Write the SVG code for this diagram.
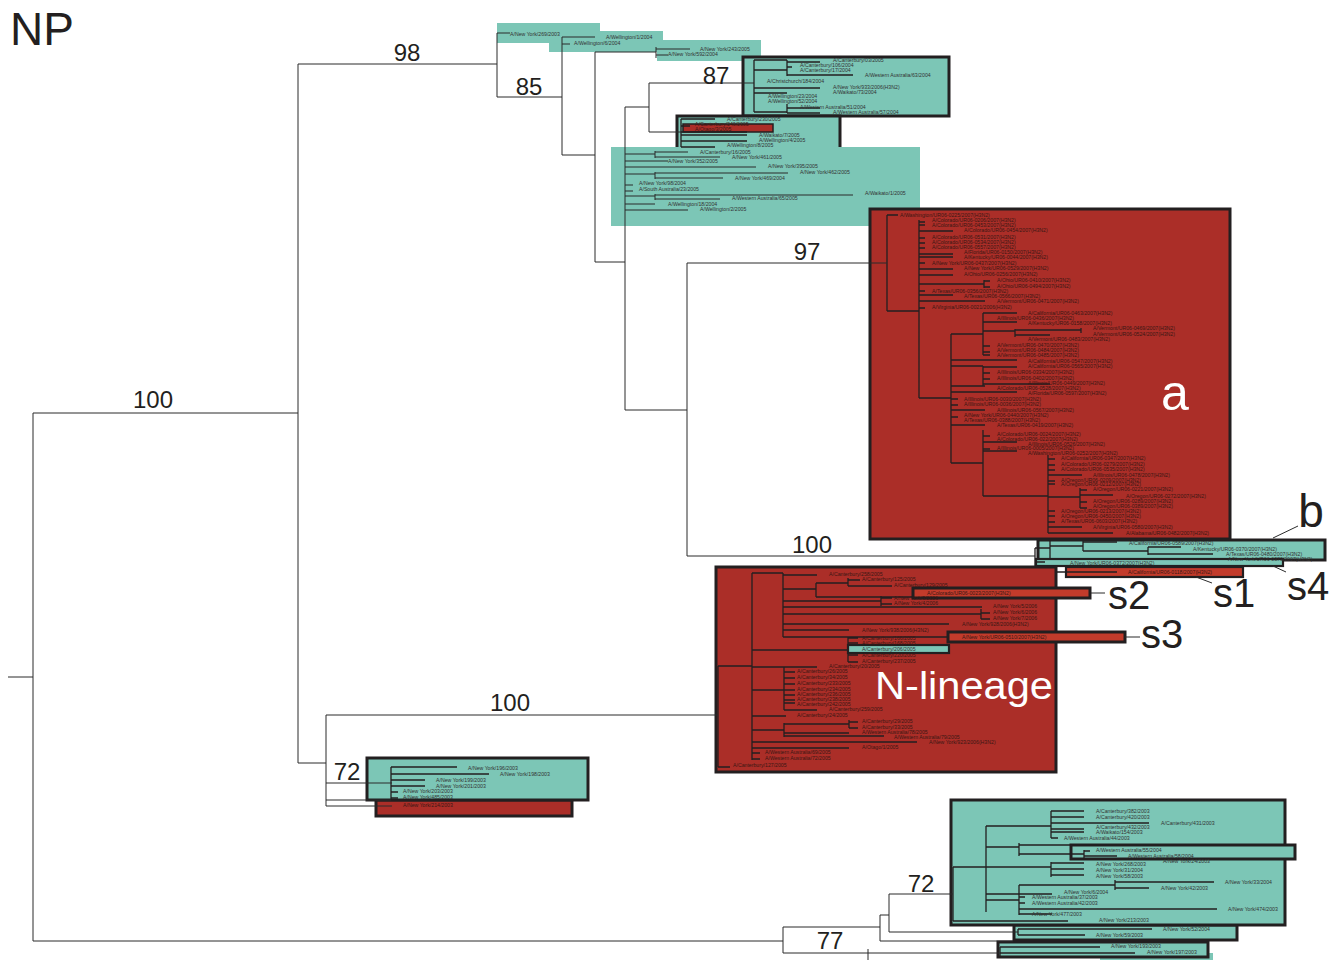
<svg xmlns="http://www.w3.org/2000/svg" width="1338" height="960" viewBox="0 0 1338 960">
<style>
.bg{fill:#ffffff}
.teal{fill:#7cc6b6}
.red{fill:#ab2e28}
.sred{fill:#c23b2b}
.bx{stroke:#231f20;stroke-width:3}
.bxs{stroke:#231f20;stroke-width:2.2}
.ln{fill:none;stroke:#2b2b2b;stroke-width:1}
.lb{fill:none;stroke:#231f20;stroke-width:1.3}
.t{font-family:"Liberation Sans",Arial,sans-serif;font-size:5.2px;fill:#333333}
.tr{font-family:"Liberation Sans",Arial,sans-serif;font-size:5.2px;fill:#3a1714}
.num{font-family:"Liberation Sans",Arial,sans-serif;font-size:24px;fill:#231f20;text-anchor:middle}
.lab{font-family:"Liberation Sans",Arial,sans-serif;fill:#231f20;text-anchor:middle}
.wl{font-family:"Liberation Sans",Arial,sans-serif;fill:#ffffff}
</style>
<rect class="bg" x="0" y="0" width="1338" height="960"/>

<g id="clade-top">
  <rect class="teal" x="497" y="23" width="103" height="20"/>
  <rect class="teal" x="549" y="31" width="114" height="21"/>
  <rect class="teal" x="657" y="40" width="104" height="21"/>
  <rect class="teal bx" x="743" y="57" width="206" height="59"/>
  <rect class="teal bx" x="677" y="116" width="163" height="33"/>
  <rect class="red" x="683" y="124" width="90" height="8" stroke="#231f20" stroke-width="1.5"/>
  <rect class="teal" x="611" y="147" width="309" height="79"/>
  <path class="ln" d="M497 33V97M497 33H510M497 97H562M562 37V155M562 37H595M562 44H570M562 155H595M595 52V262M595 52H656M656 47V58M656 49H690M656 55H668M595 262H625M625 107V410M625 107H649M649 83V132M649 83H754M649 132H681"/>
  <path class="lb" d="M754 60V112M754 60H787M787 60V76M787 62H820M787 67H792M787 75H853M754 70H787M754 88H820M754 93H787M754 112H787M787 104V113M787 108H820M787 113H820"/>
  <path class="lb" d="M681 119V147M681 119H715M681 126H690M681 132H747M681 135H747M681 141H747M681 147H715"/>
  <path class="ln" d="M625 154H655M655 151V158M655 152H688M655 157H720M625 161H668M625 167H756M625 174H655M655 172V179M655 173H788M655 178H723M625 185H633M625 191H633M625 196H655M655 194V200M655 195H853M655 199H720M625 204H655M625 210H688"/>
  <text class="t" x="510" y="36">A/New York/269/2003</text>
  <text class="t" x="606" y="39">A/Wellington/1/2004</text>
  <text class="t" x="574" y="45">A/Wellington/6/2004</text>
  <text class="t" x="700" y="51">A/New York/243/2005</text>
  <text class="t" x="668" y="56">A/New York/592/2004</text>
  <text class="t" x="833" y="62">A/Canterbury/03/2005</text>
  <text class="t" x="800" y="66.5">A/Canterbury/106/2004</text>
  <text class="t" x="800" y="71.5">A/Canterbury/17/2004</text>
  <text class="t" x="865" y="77">A/Western Australia/63/2004</text>
  <text class="t" x="767" y="83">A/Christchurch/184/2004</text>
  <text class="t" x="833" y="89">A/New York/933/2006(H3N2)</text>
  <text class="t" x="833" y="94">A/Waikato/73/2004</text>
  <text class="t" x="768" y="97.5">A/Wellington/23/2004</text>
  <text class="t" x="768" y="103">A/Wellington/52/2004</text>
  <text class="t" x="800" y="109">A/Western Australia/51/2004</text>
  <text class="t" x="833" y="114">A/Western Australia/57/2004</text>
  <text class="t" x="727" y="120.5">A/Canterbury/230/2005</text>
  <text class="tr" x="695" y="125.5">A/Canterbury/240/2005</text>
  <text class="tr" x="695" y="130.5">A/Otago/3/2005</text>
  <text class="t" x="759" y="137">A/Waikato/7/2005</text>
  <text class="t" x="759" y="142">A/Wellington/4/2005</text>
  <text class="t" x="727" y="147">A/Wellington/8/2005</text>
  <text class="t" x="700" y="154">A/Canterbury/16/2005</text>
  <text class="t" x="732" y="159">A/New York/461/2005</text>
  <text class="t" x="668" y="163">A/New York/352/2005</text>
  <text class="t" x="768" y="168">A/New York/395/2005</text>
  <text class="t" x="800" y="174">A/New York/462/2005</text>
  <text class="t" x="735" y="180">A/New York/469/2004</text>
  <text class="t" x="639" y="185">A/New York/98/2004</text>
  <text class="t" x="639" y="191">A/South Australia/23/2005</text>
  <text class="t" x="865" y="195">A/Waikato/1/2005</text>
  <text class="t" x="732" y="200">A/Western Australia/65/2005</text>
  <text class="t" x="668" y="206">A/Wellington/18/2004</text>
  <text class="t" x="700" y="211">A/Wellington/2/2005</text>
</g>

<g id="clade-a">
  <rect class="red bx" x="870" y="209" width="360" height="330"/>
  <path class="lb" d="M887 215V311M887 215H898M887 311H919M919 220V398M919 222H925M919 225H925M919 231H953M919 238H925M919 243H925M919 248H925M919 254H953M919 257H953M919 263H925M919 269H953M919 275H953M919 284H984M984 280V288M984 281H990M984 287H990M919 291H925M919 295H953M919 301H985M919 308H925M919 398H951M951 334V463M951 334H983M983 313V355M983 313H1017M983 322H1017M983 331H1015M1015 329V337M1015 330H1081M1081 328V333M1015 335H1050M983 346H990M983 352H990M983 355H990M951 360H1017M951 366H983M983 366V386M983 367H1017M983 373H990M983 379H990M983 384H1050M951 386H985M951 392H1017M951 399H958M951 405H958M951 410H985M951 417H958M951 425H985M951 463H983M983 430V496M983 436H990M983 442H1017M983 449H990M983 451H1017M983 496H1048M1048 455V533M1048 459H1055M1048 465H1055M1048 470H1055M1048 475H1082M1048 481H1055M1048 484H1055M1048 497H1080M1080 488V508M1080 490H1087M1080 495H1113M1080 502H1087M1080 508H1087M1048 511H1055M1048 516H1055M1048 522H1055M1048 527H1082M1048 533H1113"/>
  <text class="tr" x="900" y="217">A/Washington/UR06-0225/2007(H3N2)</text>
  <text class="tr" x="932" y="222">A/Colorado/UR06-0206/2007(H3N2)</text>
  <text class="tr" x="932" y="227">A/Colorado/UR06-0453/2007(H3N2)</text>
  <text class="tr" x="964" y="232">A/Colorado/UR06-0454/2007(H3N2)</text>
  <text class="tr" x="932" y="238.5">A/Colorado/UR06-0531/2007(H3N2)</text>
  <text class="tr" x="932" y="244">A/Colorado/UR06-0534/2007(H3N2)</text>
  <text class="tr" x="932" y="249">A/Colorado/UR06-0557/2007(H3N2)</text>
  <text class="tr" x="964" y="254">A/Florida/UR06-0150/2007(H3N2)</text>
  <text class="tr" x="964" y="259">A/Kentucky/UR06-0044/2007(H3N2)</text>
  <text class="tr" x="932" y="264.5">A/New York/UR06-0437/2007(H3N2)</text>
  <text class="tr" x="964" y="270">A/New York/UR06-0529/2007(H3N2)</text>
  <text class="tr" x="964" y="276">A/Ohio/UR06-0256/2007(H3N2)</text>
  <text class="tr" x="997" y="282">A/Ohio/UR06-0410/2007(H3N2)</text>
  <text class="tr" x="997" y="287.5">A/Ohio/UR06-0494/2007(H3N2)</text>
  <text class="tr" x="932" y="292.5">A/Texas/UR06-0356/2007(H3N2)</text>
  <text class="tr" x="964" y="297.5">A/Texas/UR06-0566/2007(H3N2)</text>
  <text class="tr" x="997" y="303">A/Vermont/UR06-0471/2007(H3N2)</text>
  <text class="tr" x="932" y="309">A/Virginia/UR06-0021/2006(H3N2)</text>
  <text class="tr" x="1028" y="315">A/California/UR06-0463/2007(H3N2)</text>
  <text class="tr" x="997" y="320">A/Illinois/UR06-0436/2007(H3N2)</text>
  <text class="tr" x="1028" y="325">A/Kentucky/UR06-0158/2007(H3N2)</text>
  <text class="tr" x="1093" y="330">A/Vermont/UR06-0469/2007(H3N2)</text>
  <text class="tr" x="1093" y="336">A/Vermont/UR06-0524/2007(H3N2)</text>
  <text class="tr" x="1028" y="341">A/Vermont/UR06-0483/2007(H3N2)</text>
  <text class="tr" x="997" y="347">A/Vermont/UR06-0470/2007(H3N2)</text>
  <text class="tr" x="997" y="352">A/Vermont/UR06-0484/2007(H3N2)</text>
  <text class="tr" x="997" y="357">A/Vermont/UR06-0485/2007(H3N2)</text>
  <text class="tr" x="1028" y="362.5">A/California/UR06-0547/2007(H3N2)</text>
  <text class="tr" x="1028" y="368">A/California/UR06-0565/2007(H3N2)</text>
  <text class="tr" x="997" y="374">A/Illinois/UR06-0334/2007(H3N2)</text>
  <text class="tr" x="997" y="379.5">A/Illinois/UR06-0402/2007(H3N2)</text>
  <text class="tr" x="1028" y="384.5">A/Illinois/UR06-0449/2007(H3N2)</text>
  <text class="tr" x="997" y="389.5">A/Colorado/UR06-0528/2007(H3N2)</text>
  <text class="tr" x="1028" y="395">A/Florida/UR06-0597/2007(H3N2)</text>
  <text class="tr" x="964" y="400.5">A/Illinois/UR06-0030/2007(H3N2)</text>
  <text class="tr" x="964" y="406">A/Illinois/UR06-0036/2007(H3N2)</text>
  <text class="tr" x="997" y="411.5">A/Illinois/UR06-0567/2007(H3N2)</text>
  <text class="tr" x="964" y="416.5">A/New York/UR06-0440/2007(H3N2)</text>
  <text class="tr" x="964" y="421.5">A/Texas/UR06-0388/2007(H3N2)</text>
  <text class="tr" x="997" y="426.5">A/Texas/UR06-0419/2007(H3N2)</text>
  <text class="tr" x="997" y="436">A/Colorado/UR06-0024/2007(H3N2)</text>
  <text class="tr" x="997" y="441">A/Colorado/UR06-022/2007(H3N2)</text>
  <text class="tr" x="1028" y="445.5">A/Illinois/UR06-0526/2007(H3N2)</text>
  <text class="tr" x="997" y="450">A/Illinois/UR06-0005/2007(H3N2)</text>
  <text class="tr" x="1028" y="454.5">A/Washington/UR06-0252/2007(H3N2)</text>
  <text class="tr" x="1061" y="460">A/California/UR06-0347/2007(H3N2)</text>
  <text class="tr" x="1061" y="466">A/Colorado/UR06-0279/2007(H3N2)</text>
  <text class="tr" x="1061" y="471">A/Colorado/UR06-0535/2007(H3N2)</text>
  <text class="tr" x="1093" y="476.5">A/Illinois/UR06-0478/2007(H3N2)</text>
  <text class="tr" x="1061" y="481.5">A/Oregon/UR06-0209/2007(H3N2)</text>
  <text class="tr" x="1061" y="486">A/Oregon/UR06-0212/2007(H3N2)</text>
  <text class="tr" x="1093" y="491">A/Oregon/UR06-0221/2007(H3N2)</text>
  <text class="tr" x="1126" y="498">A/Oregon/UR06-0272/2007(H3N2)</text>
  <text class="tr" x="1093" y="503">A/Oregon/UR06-0289/2007(H3N2)</text>
  <text class="tr" x="1093" y="508">A/Oregon/UR06-0389/2007(H3N2)</text>
  <text class="tr" x="1061" y="512.5">A/Oregon/UR06-0213/2007(H3N2)</text>
  <text class="tr" x="1061" y="517.5">A/Oregon/UR06-0450/2007(H3N2)</text>
  <text class="tr" x="1061" y="523">A/Texas/UR06-0603/2007(H3N2)</text>
  <text class="tr" x="1093" y="529">A/Virginia/UR06-0580/2007(H3N2)</text>
  <text class="tr" x="1126" y="535">A/Alabama/UR06-0482/2007(H3N2)</text>
  <text class="wl" x="1161" y="410" font-size="50">a</text>
</g>

<g id="clade-b">
  <rect class="teal bx" x="1038" y="540" width="287" height="20"/>
  <rect class="teal bxs" x="1036" y="559" width="247" height="7"/>
  <rect class="sred bxs" x="1066" y="567" width="177" height="10"/>
  <path class="lb" d="M1050 540V560M1050 546H1083M1083 541V551M1083 542H1117M1083 551H1148M1148 547V555M1148 547H1181M1148 554H1213M1035 548V572M1035 548H1050M1035 562H1045M1035 572H1117"/>
  <text class="t" x="1129" y="545">A/California/UR06-0589/2007(H3N2)</text>
  <text class="t" x="1193" y="551">A/Kentucky/UR06-0370/2007(H3N2)</text>
  <text class="t" x="1226" y="556">A/Texas/UR06-0480/2007(H3N2)</text>
  <text class="t" x="1228" y="561">A/New York/UR06-0373/2007(H3N2)</text>
  <text class="t" x="1070" y="565">A/New York/UR06-0372/2007(H3N2)</text>
  <text class="tr" x="1128" y="574">A/California/UR06-0118/2007(H3N2)</text>
</g>

<g id="clade-n-lineage">
  <rect class="red bx" x="716" y="567" width="340" height="205"/>
  <path class="lb" d="M718 666V767M718 666H752M718 767H730M752 573V760M752 573H783M783 573V637M783 575H817M783 589H816M816 583V597M816 583H848M848 578V586M848 580H860M848 586H892M816 597H912M783 601H881M881 596V606M881 598H892M881 604H892M783 607H982M783 614H981M981 609V619M981 613H990M981 619H990M783 624H949M783 630H849M783 637H947M752 650H848M848 637V662M848 638H858M848 643H858M848 650H940M848 655H858M848 662H858M752 667H817M752 690H784M784 667V710M784 672H795M784 678H795M784 684H795M784 690H795M784 695H795M784 700H795M784 703H795M784 710H817M752 716H786M752 730H784M784 723V737M784 724H849M849 720V728M849 722H858M849 728H858M784 733H849M784 736H884M752 742H917M752 748H849M752 753H760M752 759H760"/>
  <rect class="sred bx" x="913" y="588" width="177" height="10"/>
  <rect class="sred bx" x="948" y="632" width="177" height="10"/>
  <rect class="teal bxs" x="848" y="645" width="101" height="8"/>
  <text class="tr" x="829" y="576">A/Canterbury/258/2005</text>
  <text class="tr" x="862" y="581">A/Canterbury/125/2005</text>
  <text class="tr" x="894" y="587">A/Canterbury/129/2005</text>
  <text class="tr" x="927" y="595">A/Colorado/UR06-0023/2007(H3N2)</text>
  <text class="tr" x="894" y="600">A/New York/3/2006</text>
  <text class="tr" x="894" y="605">A/New York/4/2006</text>
  <text class="tr" x="993" y="608">A/New York/5/2006</text>
  <text class="tr" x="993" y="614">A/New York/6/2006</text>
  <text class="tr" x="993" y="620">A/New York/7/2006</text>
  <text class="tr" x="962" y="626">A/New York/928/2006(H3N2)</text>
  <text class="tr" x="862" y="632">A/New York/938/2006(H3N2)</text>
  <text class="tr" x="962" y="639">A/New York/UR06-0510/2007(H3N2)</text>
  <text class="tr" x="862" y="640">A/Canterbury/166/2005</text>
  <text class="tr" x="862" y="645">A/Canterbury/168/2005</text>
  <text class="t" x="862" y="651">A/Canterbury/206/2005</text>
  <text class="tr" x="862" y="657">A/Canterbury/220/2005</text>
  <text class="tr" x="862" y="663">A/Canterbury/237/2005</text>
  <text class="tr" x="829" y="668">A/Canterbury/20/2005</text>
  <text class="tr" x="797" y="673">A/Canterbury/26/2005</text>
  <text class="tr" x="797" y="679">A/Canterbury/34/2005</text>
  <text class="tr" x="797" y="685">A/Canterbury/233/2005</text>
  <text class="tr" x="797" y="690.5">A/Canterbury/234/2005</text>
  <text class="tr" x="797" y="695.5">A/Canterbury/236/2005</text>
  <text class="tr" x="797" y="700.5">A/Canterbury/238/2005</text>
  <text class="tr" x="797" y="705.5">A/Canterbury/242/2005</text>
  <text class="tr" x="829" y="711">A/Canterbury/259/2005</text>
  <text class="tr" x="797" y="717">A/Canterbury/24/2005</text>
  <text class="tr" x="862" y="723">A/Canterbury/29/2005</text>
  <text class="tr" x="862" y="728.5">A/Canterbury/33/2005</text>
  <text class="tr" x="862" y="733.5">A/Western Australia/78/2005</text>
  <text class="tr" x="894" y="738.5">A/Western Australia/79/2005</text>
  <text class="tr" x="929" y="743.5">A/New York/923/2006(H3N2)</text>
  <text class="tr" x="862" y="749">A/Otago/1/2005</text>
  <text class="tr" x="765" y="754">A/Western Australia/69/2005</text>
  <text class="tr" x="765" y="760">A/Western Australia/72/2005</text>
  <text class="tr" x="733" y="767">A/Canterbury/127/2005</text>
  <text class="wl" x="875" y="699" font-size="38" textLength="178" lengthAdjust="spacingAndGlyphs">N-lineage</text>
</g>

<g id="clade-72a">
  <rect class="red bx" x="376" y="800" width="196" height="16"/>
  <rect class="teal bx" x="367" y="758" width="221" height="42"/>
  <path class="lb" d="M391 767V800M391 767H457M391 774H489M391 780H425M391 786H425M391 792H398M391 798H398"/>
  <text class="t" x="468" y="770">A/New York/196/2003</text>
  <text class="t" x="500" y="776">A/New York/198/2003</text>
  <text class="t" x="436" y="782">A/New York/199/2003</text>
  <text class="t" x="436" y="788">A/New York/201/2003</text>
  <text class="t" x="403" y="793">A/New York/203/2003</text>
  <text class="t" x="403" y="798.5">A/New York/485/2003</text>
  <text class="tr" x="403" y="807">A/New York/214/2003</text>
</g>

<g id="clade-bottom">
  <rect class="teal" x="1100" y="953" width="113" height="7"/>
  <rect class="teal bx" x="998" y="942" width="210" height="15"/>
  <rect class="teal bx" x="1014" y="925" width="223" height="15"/>
  <rect class="teal bx" x="951" y="800" width="334" height="125"/>
  <rect class="teal bx" x="1071" y="845" width="224" height="14"/>
  <path class="lb" d="M953 867V921M953 867H1051M953 921H1068M986 826V912M986 826H1051M1051 811V838M1051 811H1084M1051 817H1084M1051 823H1149M1051 829H1084M1051 832H1084M1051 838H1058M986 847H1019M1019 843V856M1019 845H1110M1019 854H1084M1084 850V858M1084 851H1090M1084 856H1117M1051 862V877M1051 863H1084M1051 869H1084M1051 875H1084M986 900H1019M1019 885V915M1019 885H1115M1115 880V890M1115 882H1214M1115 888H1149M986 894H1052M1019 897H1025M1019 903H1025M1019 909H1217M1019 914H1052M1018 929V935M1018 929H1152M1018 935H1085M1000 947V958M1000 947H1100M1000 953H1135"/>
  <text class="t" x="1096" y="813">A/Canterbury/382/2003</text>
  <text class="t" x="1096" y="819">A/Canterbury/420/2003</text>
  <text class="t" x="1161" y="825">A/Canterbury/431/2003</text>
  <text class="t" x="1096" y="829">A/Canterbury/432/2003</text>
  <text class="t" x="1096" y="834">A/Waikato/154/2003</text>
  <text class="t" x="1064" y="839.5">A/Western Australia/44/2003</text>
  <text class="t" x="1096" y="852">A/Western Australia/55/2004</text>
  <text class="t" x="1128" y="858">A/Western Australia/58/2004</text>
  <text class="t" x="1163" y="863">A/New York/24/2003</text>
  <text class="t" x="1096" y="866">A/New York/268/2003</text>
  <text class="t" x="1096" y="872">A/New York/31/2004</text>
  <text class="t" x="1096" y="878">A/New York/58/2003</text>
  <text class="t" x="1225" y="884">A/New York/33/2004</text>
  <text class="t" x="1161" y="890">A/New York/42/2003</text>
  <text class="t" x="1064" y="894">A/New York/6/2004</text>
  <text class="t" x="1032" y="899">A/Western Australia/37/2003</text>
  <text class="t" x="1032" y="904.5">A/Western Australia/42/2003</text>
  <text class="t" x="1228" y="911">A/New York/474/2003</text>
  <text class="t" x="1032" y="916">A/New York/477/2003</text>
  <text class="t" x="1099" y="922">A/New York/213/2003</text>
  <text class="t" x="1163" y="931">A/New York/52/2004</text>
  <text class="t" x="1096" y="937">A/New York/59/2003</text>
  <text class="t" x="1111" y="948">A/New York/193/2003</text>
  <text class="t" x="1147" y="954">A/New York/197/2003</text>
</g>

<g id="connectors">
  <path class="ln" d="M8 677H33M33 413V941M33 413H298M298 64V763M298 64H497M298 763H326M326 715V806M326 715H718M326 783H392M326 800H391M326 806H392M33 941H783M783 927V953M783 927H880M880 915V941M880 915H889M889 894V932M889 894H953M889 932H1018M880 941H1013M783 953H868M868 949V960M868 953H1000M687 263V556M625 410H687M687 263H887M687 556H1035"/>
  <path class="ln" d="M1273 538L1298 526M1196 577L1212 583M1273 566L1286 572M1091 593H1105M1125 637H1140"/>
</g>

<g id="labels">
  <text class="lab" x="42" y="45" font-size="46">NP</text>
  <text class="num" x="407" y="61">98</text>
  <text class="num" x="529" y="95">85</text>
  <text class="num" x="716" y="84">87</text>
  <text class="num" x="807" y="260">97</text>
  <text class="num" x="153" y="408">100</text>
  <text class="num" x="812" y="553">100</text>
  <text class="num" x="510" y="711">100</text>
  <text class="num" x="347" y="780">72</text>
  <text class="num" x="921" y="892">72</text>
  <text class="num" x="830" y="949">77</text>
  <text class="lab" x="1311" y="527" font-size="46">b</text>
  <text class="lab" x="1234" y="607" font-size="40">s1</text>
  <text class="lab" x="1308" y="600" font-size="40">s4</text>
  <text class="lab" x="1129" y="609" font-size="40">s2</text>
  <text class="lab" x="1162" y="648" font-size="40">s3</text>
</g>
</svg>
